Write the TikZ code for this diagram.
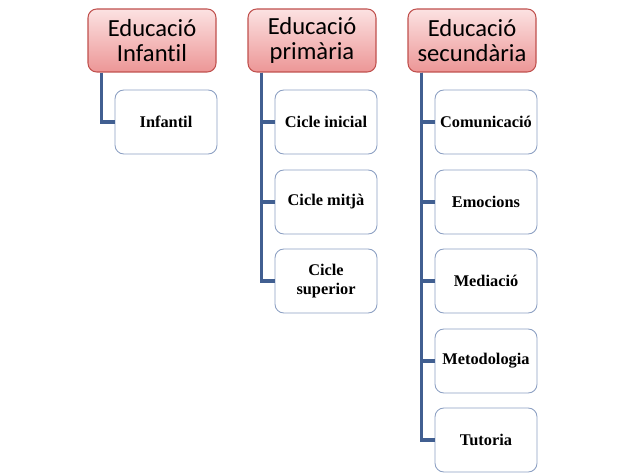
\documentclass[tikz,border=0pt]{standalone}
\usepackage{fontspec}
\newfontfamily\headfont[Ligatures=NoCommon]{Carlito}
\newfontfamily\leaffont{Liberation Serif}
\usetikzlibrary{calc}
\definecolor{headline}{RGB}{192,80,77}
\definecolor{headtop}{RGB}{252,226,226}
\definecolor{headbot}{RGB}{236,150,150}
\definecolor{leafline}{RGB}{140,160,195}
\definecolor{conn}{RGB}{65,95,145}
\tikzset{
  headbox/.style={rectangle,rounded corners=5pt,draw=headline,line width=0.6pt,
    top color=headtop,bottom color=headbot,minimum width=128*0.02cm,
    minimum height=63*0.02cm,align=center,inner sep=0pt,
    font=\headfont\fontsize{14}{14.2}\selectfont},
  leafbox/.style={rectangle,rounded corners=5pt,draw=leafline,line width=0.5pt,
    fill=white,minimum width=102*0.02cm,minimum height=64*0.02cm,
    align=center,inner sep=0pt,font=\leaffont\bfseries\fontsize{9.3}{11}\selectfont},
  link/.style={draw=conn,line width=2pt}
}
\begin{document}
\begin{tikzpicture}[x=0.02cm,y=-0.02cm]
\useasboundingbox (0,0) rectangle (625,476);
% capcaleres
\node[headbox] (inf) at (152,40.5) {Educació\\Infantil};
\node[headbox] (pri) at (312,40.5) {Educació\\primària};
\node[headbox] (sec) at (472,40.5) {Educació\\secundària};
% fulles
\node[leafbox] (inf1) at (166,122) {Infantil};
\node[leafbox] (pri1) at (326,122) {Cicle inicial};
\node[leafbox] (pri2) at (326,202) {Cicle mitjà};
\node[leafbox] (pri3) at (326,281) {Cicle\\superior};
\node[leafbox] (sec1) at (486,122) {Comunicació};
\node[leafbox] (sec2) at (486,202) {Emocions};
\node[leafbox] (sec3) at (486,281) {Mediació};
\node[leafbox] (sec4) at (486,361) {Metodologia};
\node[leafbox] (sec5) at (486,440) {Tutoria};
% connectors
\foreach \h/\l in {inf/inf1,pri/pri1,pri/pri2,pri/pri3,sec/sec1,sec/sec2,sec/sec3,sec/sec4,sec/sec5}
  \draw[link] ($(\h.south west)!0.11!(\h.south east)$) |- (\l.west);
\end{tikzpicture}
\end{document}
